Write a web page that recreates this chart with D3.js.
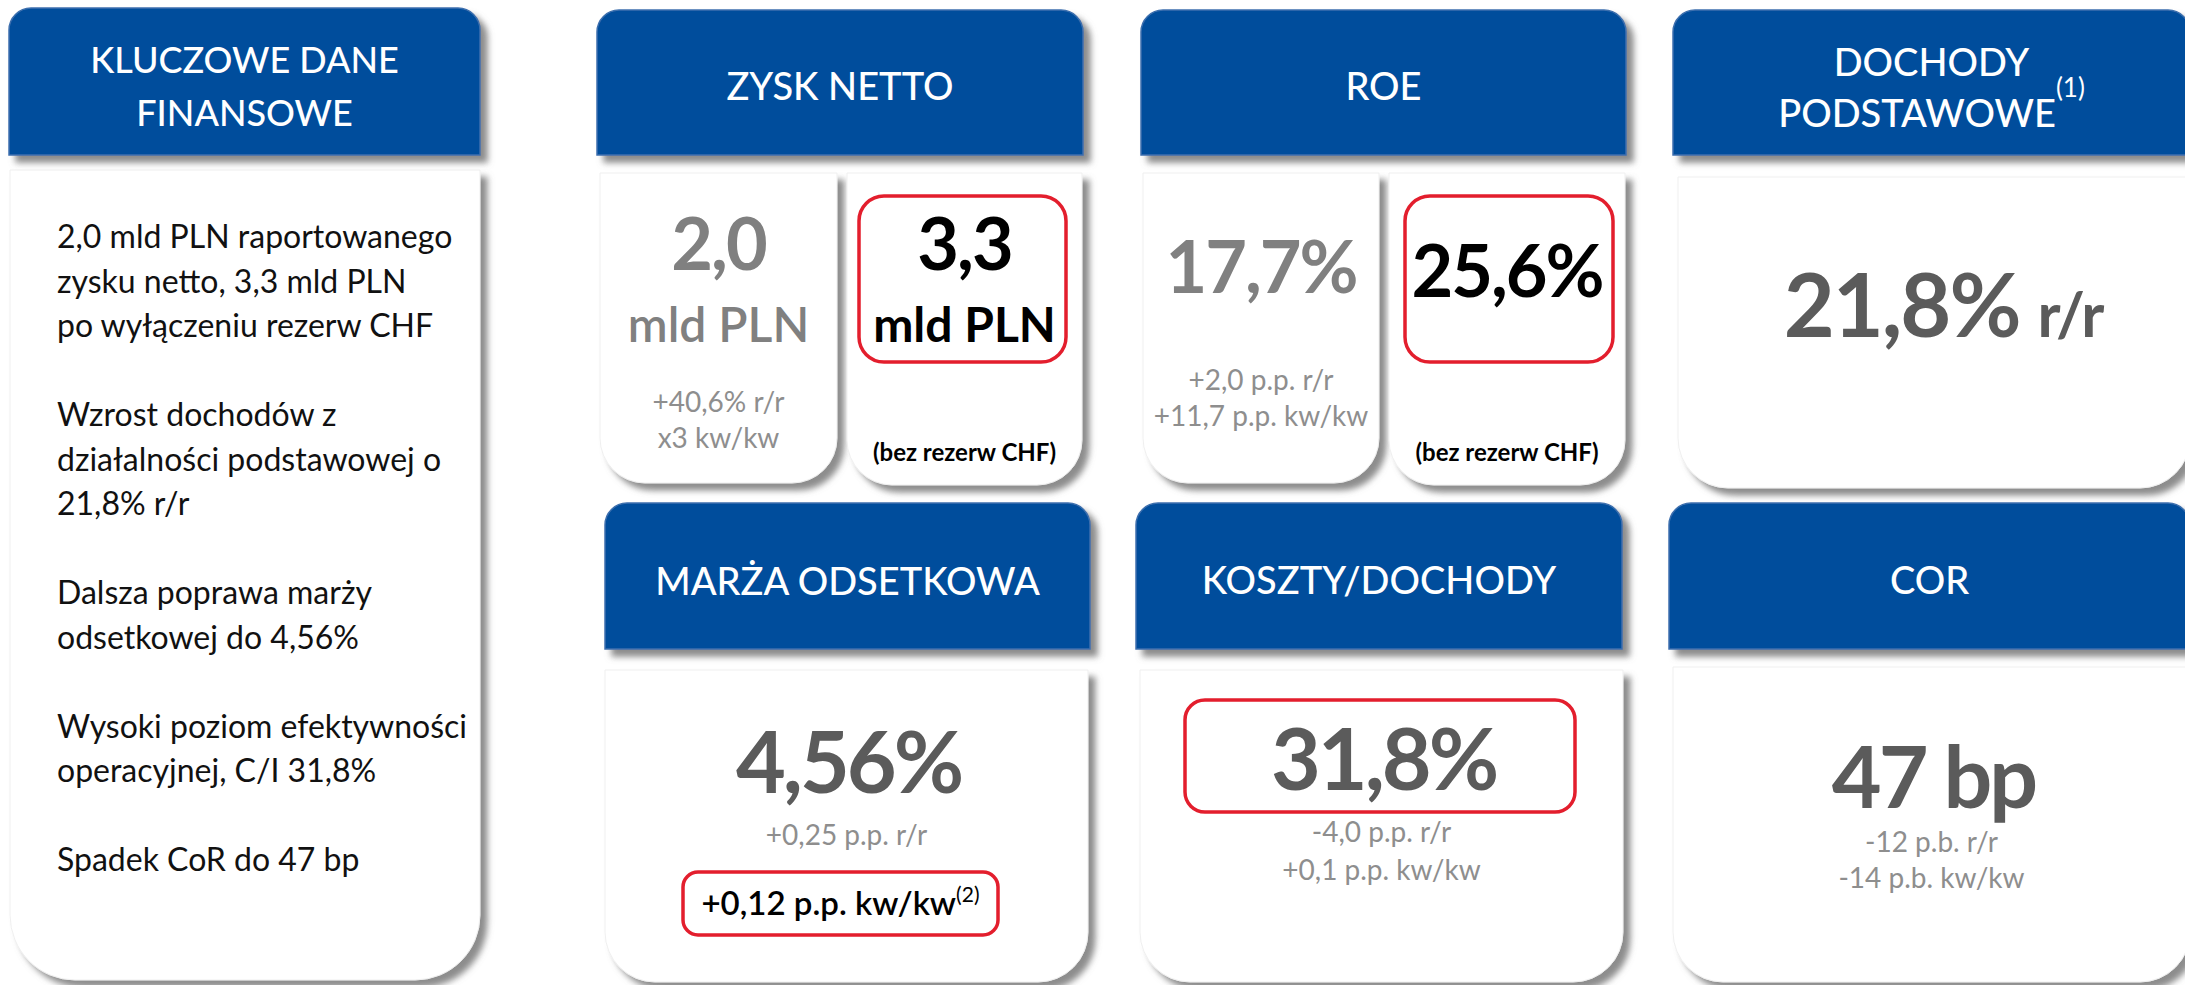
<!DOCTYPE html>
<html>
<head>
<meta charset="utf-8">
<script src="https://cdn.jsdelivr.net/npm/d3@7"></script>
<style>
  body { margin: 0; background: #fff; }
  svg { display: block; }
</style>
</head>
<body>
<div id="chart"></div>
<script>
// --- data ---
var headerTitles = [
  ['KLUCZOWE DANE', 'FINANSOWE'],
  ['ZYSK NETTO'],
  ['ROE'],
  ['DOCHODY', 'PODSTAWOWE'],
  ['MARŻA ODSETKOWA'],
  ['KOSZTY/DOCHODY'],
  ['COR']
];
var headerNotes = ['', '', '', '(1)', '', '', ''];

var summaryLines = [
  ['2,0 mld PLN raportowanego', 'zysku netto, 3,3 mld PLN', 'po wyłączeniu rezerw CHF'],
  ['Wzrost dochodów z', 'działalności podstawowej o', '21,8% r/r'],
  ['Dalsza poprawa marży', 'odsetkowej do 4,56%'],
  ['Wysoki poziom efektywności', 'operacyjnej, C/I 31,8%'],
  ['Spadek CoR do 47 bp']
];

var reportedValues = ['2,0', '17,7%'];
var reportedUnits = ['mld PLN', ''];
var reportedChanges = [['+40,6% r/r', 'x3 kw/kw'], ['+2,0 p.p. r/r', '+11,7 p.p. kw/kw']];
var adjustedValues = ['3,3', '25,6%'];
var adjustedUnits = ['mld PLN', ''];
var adjustedNote = '(bez rezerw CHF)';

var coreIncomeValue = '21,8%';
var coreIncomeUnit = 'r/r';

var bottomValues = ['4,56%', '31,8%', '47 bp'];
var bottomChanges = [['+0,25 p.p. r/r', '+0,12 p.p. kw/kw'], ['-4,0 p.p. r/r', '+0,1 p.p. kw/kw'], ['-12 p.b. r/r', '-14 p.b. kw/kw']];
var highlightNote = '(2)';

// --- layout ---
var W = 2185, H = 985;
var blue = '#034e9c', red = '#e31e2d', grey = '#808080', darkGrey = '#5b5b5b', lightGrey = '#8e8e8e';
var font = "Lato, 'Open Sans', sans-serif";

var headerBoxes = [
  [9, 480, 8, 155], [597, 1083, 10, 155], [1141, 1626, 10, 155], [1673, 2190, 10, 155],
  [605, 1090, 503, 649], [1136, 1622, 503, 649], [1669, 2190, 503, 649]
];
var headerBaselines = [[73, 126], [100], [100], [76, 127], [595], [594], [594]];

var bodyBoxes = [
  [10, 480, 170, 980, 65],
  [600, 837, 173, 483, 45], [847, 1082, 173, 485, 45],
  [1143, 1379, 173, 483, 45], [1389, 1625, 173, 485, 45],
  [1678, 2190, 177, 488, 50],
  [605, 1088, 670, 982, 50], [1140, 1623, 670, 982, 50], [1673, 2190, 667, 982, 50]
];

var svg = d3.select('#chart').append('svg')
  .attr('width', W).attr('height', H);

var defs = svg.append('defs');
var f = defs.append('filter').attr('id', 'shadow')
  .attr('x', '-10%').attr('y', '-10%').attr('width', '130%').attr('height', '130%');
f.append('feDropShadow').attr('dx', 7).attr('dy', 7).attr('stdDeviation', 3)
  .attr('flood-color', '#6f6f6f').attr('flood-opacity', 0.8);

function topRounded(b, r) {
  var x0 = b[0], x1 = b[1], y0 = b[2], y1 = b[3];
  return 'M' + x0 + ',' + y1 + 'V' + (y0 + r) + 'A' + r + ',' + r + ' 0 0 1 ' + (x0 + r) + ',' + y0 +
    'H' + (x1 - r) + 'A' + r + ',' + r + ' 0 0 1 ' + x1 + ',' + (y0 + r) + 'V' + y1 + 'Z';
}
function bottomRounded(b) {
  var x0 = b[0], x1 = b[1], y0 = b[2], y1 = b[3], r = b[4];
  return 'M' + x0 + ',' + y0 + 'H' + x1 + 'V' + (y1 - r) + 'A' + r + ',' + r + ' 0 0 1 ' + (x1 - r) + ',' + y1 +
    'H' + (x0 + r) + 'A' + r + ',' + r + ' 0 0 1 ' + x0 + ',' + (y1 - r) + 'Z';
}

// bodies first so the header shadow lies over them
svg.append('g').selectAll('path')
  .data(bodyBoxes)
  .join('path')
  .attr('d', bottomRounded)
  .attr('fill', '#fff')
  .attr('stroke', '#efefef')
  .attr('stroke-width', 1)
  .attr('filter', 'url(#shadow)');

var headers = svg.append('g').selectAll('g')
  .data(headerTitles)
  .join('g');

headers.append('path')
  .attr('d', function (d, i) { return topRounded(headerBoxes[i], 22); })
  .attr('fill', blue)
  .attr('stroke', '#3d6fae')
  .attr('stroke-width', 1.5)
  .attr('filter', 'url(#shadow)');

headers.each(function (lines, i) {
  var b = headerBoxes[i];
  var cx = (b[0] + b[1]) / 2;
  var t = d3.select(this).selectAll('text.h')
    .data(lines)
    .join('text')
    .attr('class', 'h')
    .attr('x', cx)
    .attr('y', function (d, j) { return headerBaselines[i][j]; })
    .attr('text-anchor', 'middle')
    .attr('fill', '#fff')
    .attr('font-family', font)
    .attr('font-weight', 500)
    .attr('font-size', i === 0 ? 36 : 38)
    .text(function (d) { return d; });
  if (headerNotes[i]) {
    var last = t.filter(function (d, j) { return j === lines.length - 1; });
    last.append('tspan').attr('dy', -30).attr('font-size', 26).attr('font-weight', 400).text(headerNotes[i]);
  }
});

// summary paragraphs on the left
var lineH = 44.5;
var summaryFlat = [];
var row = 0;
summaryLines.forEach(function (para) {
  para.forEach(function (l) { summaryFlat.push({ text: l, row: row }); row++; });
  row++;
});
svg.append('g').selectAll('text')
  .data(summaryFlat)
  .join('text')
  .attr('x', 57)
  .attr('y', function (d) { return 248 + d.row * lineH; })
  .attr('font-family', font)
  .attr('font-size', 32)
  .attr('fill', '#111')
  .text(function (d) { return d.text; });

function centerOf(b) { return (b[0] + b[1]) / 2; }

// red highlight frames
var redBoxes = [[859, 1066, 196, 362, 25], [1405, 1613, 196, 362, 25], [683, 998, 872, 935, 15], [1185, 1575, 700, 812, 20]];
svg.append('g').selectAll('rect')
  .data(redBoxes)
  .join('rect')
  .attr('x', function (d) { return d[0]; })
  .attr('y', function (d) { return d[2]; })
  .attr('width', function (d) { return d[1] - d[0]; })
  .attr('height', function (d) { return d[3] - d[2]; })
  .attr('rx', function (d) { return d[4]; })
  .attr('fill', 'none')
  .attr('stroke', red)
  .attr('stroke-width', 3.5);

// reported (left) and adjusted (right) sub-boxes in the top row
var reportedCols = [bodyBoxes[1], bodyBoxes[3]];
var adjustedCols = [bodyBoxes[2], bodyBoxes[4]];
var valueBase = [270, 293];
var adjBase = [270, 297];

var rep = svg.append('g').selectAll('g')
  .data(reportedValues)
  .join('g');
rep.append('text')
  .attr('x', function (d, i) { return centerOf(reportedCols[i]); })
  .attr('y', function (d, i) { return valueBase[i]; })
  .attr('text-anchor', 'middle')
  .attr('font-family', font).attr('font-size', 72).attr('font-weight', 700)
  .attr('letter-spacing', -2).attr('fill', grey)
  .text(function (d) { return d; });
rep.append('text')
  .attr('x', function (d, i) { return centerOf(reportedCols[i]); })
  .attr('y', 342)
  .attr('text-anchor', 'middle')
  .attr('font-family', font).attr('font-size', 48).attr('font-weight', 600).attr('fill', grey)
  .text(function (d, i) { return reportedUnits[i]; });
rep.each(function (d, i) {
  var first = i === 0 ? 412 : 390;
  d3.select(this).selectAll('text.chg')
    .data(reportedChanges[i])
    .join('text')
    .attr('class', 'chg')
    .attr('x', centerOf(reportedCols[i]))
    .attr('y', function (c, j) { return first + j * 36; })
    .attr('text-anchor', 'middle')
    .attr('font-family', font).attr('font-size', 28).attr('fill', lightGrey)
    .text(function (c) { return c; });
});

var adj = svg.append('g').selectAll('g')
  .data(adjustedValues)
  .join('g');
adj.append('text')
  .attr('x', function (d, i) { return centerOf(adjustedCols[i]); })
  .attr('y', function (d, i) { return adjBase[i]; })
  .attr('text-anchor', 'middle')
  .attr('font-family', font).attr('font-size', 72).attr('font-weight', 700)
  .attr('letter-spacing', -2).attr('fill', '#000')
  .text(function (d) { return d; });
adj.append('text')
  .attr('x', function (d, i) { return centerOf(adjustedCols[i]); })
  .attr('y', 342)
  .attr('text-anchor', 'middle')
  .attr('font-family', font).attr('font-size', 48).attr('font-weight', 700).attr('fill', '#000')
  .text(function (d, i) { return adjustedUnits[i]; });
adj.append('text')
  .attr('x', function (d, i) { return centerOf(adjustedCols[i]); })
  .attr('y', 461)
  .attr('text-anchor', 'middle')
  .attr('font-family', font).attr('font-size', 24).attr('font-weight', 700).attr('fill', '#000')
  .text(adjustedNote);

// core income
var core = svg.append('text')
  .attr('x', 1943).attr('y', 337)
  .attr('text-anchor', 'middle')
  .attr('font-family', font).attr('font-size', 88).attr('font-weight', 700)
  .attr('letter-spacing', -2).attr('fill', darkGrey);
core.append('tspan').text(coreIncomeValue);
core.append('tspan').attr('font-size', 62).attr('dx', 18).text(coreIncomeUnit);

// bottom row metrics
var bottomCols = [bodyBoxes[6], bodyBoxes[7], bodyBoxes[8]];
var bigBase = [793, 790, 808];
var chgBase = [[845, 915], [842, 880], [852, 888]];

var bot = svg.append('g').selectAll('g')
  .data(bottomValues)
  .join('g');
bot.append('text')
  .attr('x', function (d, i) { return centerOf(bottomCols[i]) + 2; })
  .attr('y', function (d, i) { return bigBase[i]; })
  .attr('text-anchor', 'middle')
  .attr('font-family', font).attr('font-size', 86).attr('font-weight', 700)
  .attr('letter-spacing', -3).attr('fill', darkGrey)
  .text(function (d) { return d; });
bot.each(function (d, i) {
  var g = d3.select(this);
  bottomChanges[i].forEach(function (c, j) {
    var highlighted = i === 0 && j === 1;
    var t = g.append('text')
      .attr('x', centerOf(bottomCols[i]) + (highlighted ? -6 : 0))
      .attr('y', chgBase[i][j])
      .attr('text-anchor', 'middle')
      .attr('font-family', font)
      .attr('font-size', highlighted ? 33 : 28)
      .attr('font-weight', highlighted ? 600 : 400)
      .attr('fill', highlighted ? '#000' : lightGrey);
    t.append('tspan').text(c);
    if (highlighted) {
      t.append('tspan').attr('dy', -13).attr('font-size', 21).attr('font-weight', 400).text(highlightNote);
    }
  });
});
</script>
</body>
</html>
